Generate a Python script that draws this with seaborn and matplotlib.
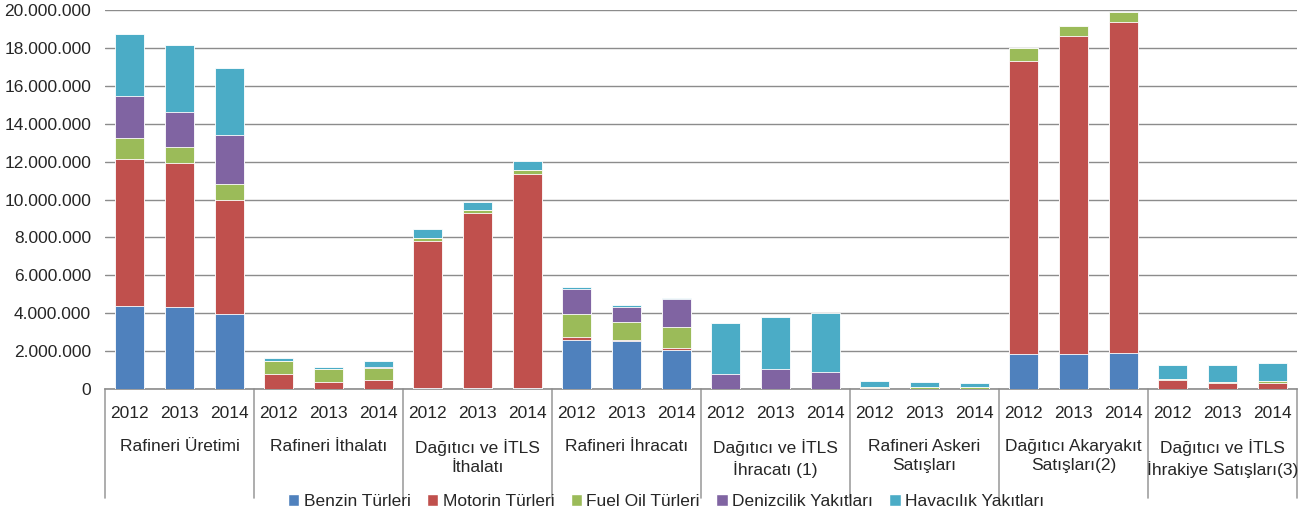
import numpy as np
import pandas as pd
import matplotlib
matplotlib.use("Agg")
import matplotlib.pyplot as plt
import matplotlib.transforms as mtransforms
from matplotlib.patches import Patch
from matplotlib.ticker import FuncFormatter, MultipleLocator
import seaborn as sns

# Categories
groups = ["Rafineri Üretimi", "Rafineri İthalatı", "Dağıtıcı ve İTLS\nİthalatı",
          "Rafineri İhracatı", "Dağıtıcı ve İTLS\nİhracatı (1)", "Rafineri Askeri\nSatışları",
          "Dağıtıcı Akaryakıt\nSatışları(2)", "Dağıtıcı ve İTLS\nİhrakiye Satışları(3)"]
years = ["2012", "2013", "2014"]
fuels = ["Benzin Türleri", "Motorin Türleri", "Fuel Oil Türleri",
         "Denizcilik Yakıtları", "Havacılık Yakıtları"]
colors = ["#4F81BD", "#C0504D", "#9BBB59", "#8064A2", "#4BACC6"]

# values in millions, group by group (2012, 2013, 2014)
benzin = [4.37, 4.32, 3.95,  0.02, 0.01, 0.01,  0.05, 0.04, 0.03,  2.61, 2.51, 2.08,
          0.01, 0.01, 0.01,  0.02, 0.01, 0.01,  1.84, 1.87, 1.92,  0.02, 0.01, 0.02]
motorin = [7.77, 7.63, 6.05,  0.78, 0.38, 0.46,  7.75, 9.27, 11.33,  0.14, 0.07, 0.06,
           0.00, 0.00, 0.00,  0.01, 0.01, 0.01,  15.46, 16.74, 17.45,  0.48, 0.31, 0.30]
fuel_oil = [1.11, 0.83, 0.84,  0.68, 0.65, 0.66,  0.19, 0.15, 0.19,  1.22, 0.95, 1.14,
            0.00, 0.00, 0.00,  0.10, 0.08, 0.07,  0.71, 0.53, 0.52,  0.03, 0.07, 0.10]
denizcilik = [2.22, 1.84, 2.58,  0.02, 0.01, 0.01,  0.00, 0.00, 0.00,  1.30, 0.78, 1.48,
              0.80, 1.02, 0.91,  0.00, 0.00, 0.00,  0.00, 0.00, 0.00,  0.00, 0.00, 0.00]
havacilik = [3.24, 3.53, 3.54,  0.12, 0.10, 0.34,  0.44, 0.40, 0.50,  0.13, 0.13, 0.04,
             2.67, 2.76, 3.09,  0.31, 0.26, 0.25,  0.00, 0.00, 0.00,  0.76, 0.88, 0.96]

series = [benzin, motorin, fuel_oil, denizcilik, havacilik]
slots = [f"{g}|{y}" for g in range(len(groups)) for y in years]

# cumulative heights for stacking
vals = np.array(series) * 1e6
cum = np.cumsum(vals, axis=0)
rows = []
for i, f in enumerate(fuels):
    for j, s in enumerate(slots):
        rows.append({"slot": s, "fuel": f, "cum": cum[i, j]})
df = pd.DataFrame(rows)

sns.set_style("white")
plt.rcParams["font.family"] = ["Liberation Sans", "DejaVu Sans"]

fig = plt.figure(figsize=(13.11, 5.19), dpi=100)
ax = fig.add_axes([0.0801, 0.2505, 0.9092, 0.7302])

# draw tallest first so lower segments sit on top
for f, c in reversed(list(zip(fuels, colors))):
    sns.barplot(data=df[df["fuel"] == f], x="slot", y="cum", order=slots, color=c,
                saturation=1, width=0.58, errorbar=None, edgecolor="#ffffff",
                linewidth=0.6, ax=ax, zorder=3)

ax.set_xlim(-0.5, len(slots) - 0.5)
ax.set_ylim(0, 20e6)
ax.yaxis.set_major_locator(MultipleLocator(2e6))
ax.yaxis.set_major_formatter(FuncFormatter(lambda v, p: f"{v:,.0f}".replace(",", ".")))
ax.grid(axis="y", color="#8c8c8c", linewidth=1, zorder=0)
ax.set_axisbelow(True)
ax.set_xlabel("")
ax.set_ylabel("")
for side in ["left", "right", "top"]:
    ax.spines[side].set_visible(False)
ax.spines["bottom"].set_color("#8c8c8c")
ax.spines["bottom"].set_linewidth(1.2)

ax.set_xticks(range(len(slots)))
ax.set_xticklabels(years * len(groups), fontsize=12.5)
ax.tick_params(axis="x", length=0, pad=12)
ax.tick_params(axis="y", length=0, pad=10, labelsize=12.5)

trans = mtransforms.blended_transform_factory(ax.transData, ax.transAxes)
for k in range(len(groups) + 1):
    ax.plot([k * 3 - 0.5, k * 3 - 0.5], [0, -0.287], color="#a0a0a0", lw=1.2,
            transform=trans, clip_on=False)
for k, g in enumerate(groups):
    ax.text(k * 3 + 1, -0.131, g, transform=trans, ha="center", va="top",
            fontsize=12.5, linespacing=1.38)

handles = [Patch(facecolor=c, label=f) for f, c in zip(fuels, colors)]
fig.legend(handles=handles, loc="center", bbox_to_anchor=(0.508, 0.033), ncol=5,
           frameon=False, fontsize=12.5, handlelength=0.65, handleheight=0.65,
           handletextpad=0.25, columnspacing=0.95)

fig.savefig("out.png", dpi=100)
